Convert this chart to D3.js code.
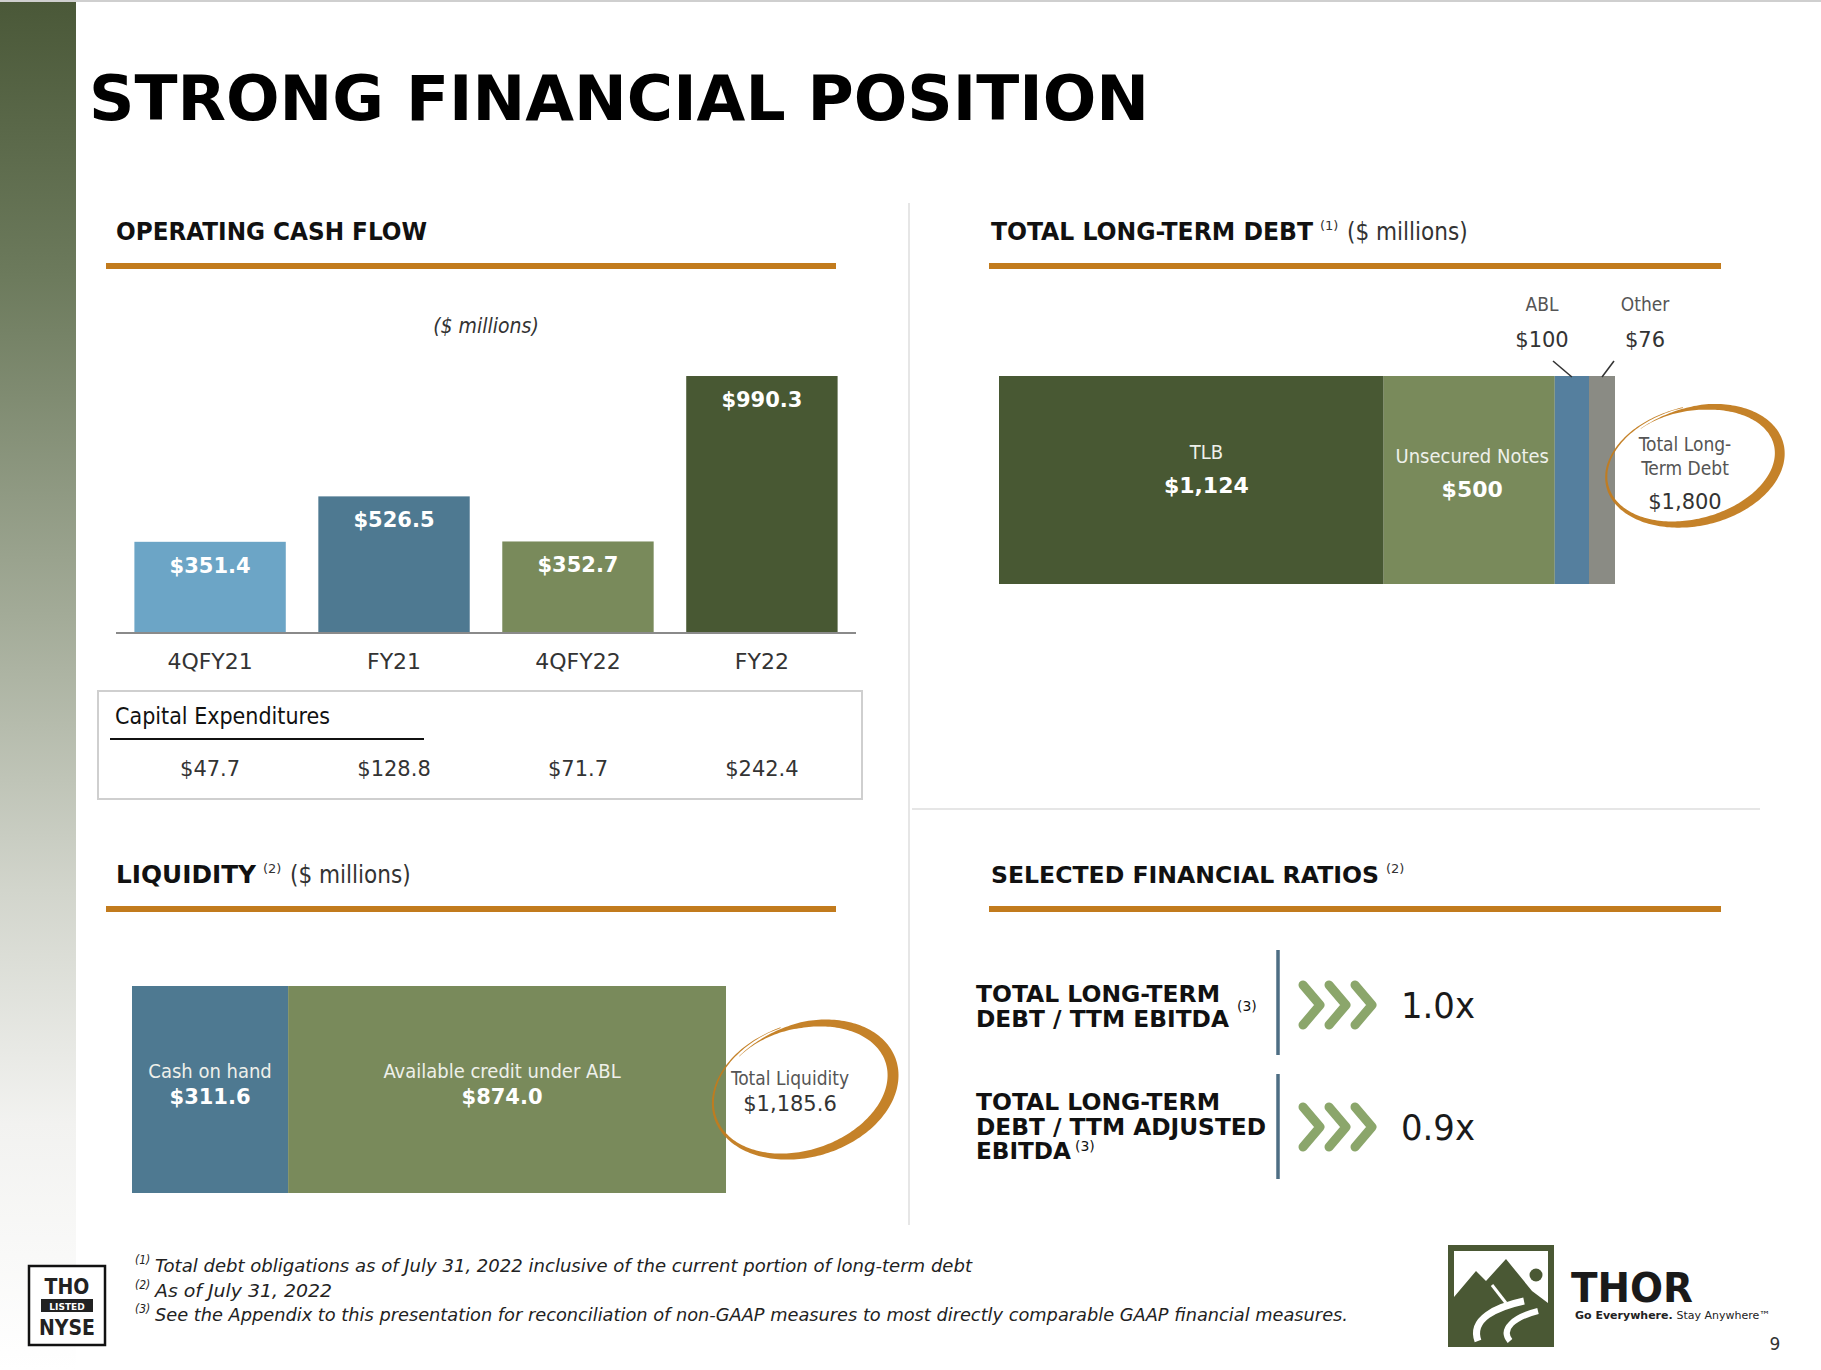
<!DOCTYPE html>
<html>
<head>
<meta charset="utf-8">
<script src="https://cdn.jsdelivr.net/npm/d3@7"></script>
<style>
  html, body { margin: 0; padding: 0; background: #ffffff; }
  svg { display: block; }
  text { font-family: "DejaVu Sans", Verdana, sans-serif; }
  .cond { font-family: "DejaVu Sans Condensed", "DejaVu Sans", sans-serif; font-stretch: condensed; }
</style>
</head>
<body>
<svg id="chart" width="1821" height="1370"></svg>
<script>
// ---------------- DATA ----------------
const ocfCategories = ["4QFY21", "FY21", "4QFY22", "FY22"];
const ocfValues = [351.4, 526.5, 352.7, 990.3];
const ocfLabels = ["$351.4", "$526.5", "$352.7", "$990.3"];
const capexValues = [47.7, 128.8, 71.7, 242.4];
const capexLabels = ["$47.7", "$128.8", "$71.7", "$242.4"];

const debtSegments = ["TLB", "Unsecured Notes", "ABL", "Other"];
const debtValues = [1124, 500, 100, 76];
const debtLabels = ["$1,124", "$500", "$100", "$76"];
const debtTotal = 1800;
const debtTotalLabel = "$1,800";

const liquiditySegments = ["Cash on hand", "Available credit under ABL"];
const liquidityValues = [311.6, 874.0];
const liquidityLabels = ["$311.6", "$874.0"];
const liquidityTotal = 1185.6;
const liquidityTotalLabel = "$1,185.6";

const ratioLines = [["TOTAL LONG-TERM", "DEBT / TTM EBITDA"], ["TOTAL LONG-TERM", "DEBT / TTM ADJUSTED", "EBITDA"]];
const ratioValues = [1.0, 0.9];

const footnotes = [
  ["(1)", "Total debt obligations as of July 31, 2022 inclusive of the current portion of long-term debt"],
  ["(2)", "As of July 31, 2022"],
  ["(3)", "See the Appendix to this presentation for reconciliation of non-GAAP measures to most directly comparable GAAP financial measures."]
];

// ---------------- STYLES ----------------
const ocfColors = ["#6ca5c6", "#4e7991", "#798a5b", "#485833"];
const debtColors = ["#485833", "#798a5b", "#557f9e", "#8a8b84"];
const liqColors = ["#4e7991", "#798a5b"];
const ORANGE = "#c27b1d";

const svg = d3.select("#chart");

svg.append("rect").attr("width", 1821).attr("height", 1370).attr("fill", "#ffffff");

// sidebar gradient
const defs = svg.append("defs");
const grad = defs.append("linearGradient").attr("id", "side").attr("x1", 0).attr("y1", 0).attr("x2", 0).attr("y2", 1);
[[0, "#4a5838"], [0.2, "#6c7a5c"], [0.45, "#a3ab98"], [0.65, "#d2d5cc"], [0.82, "#f2f2f0"], [1, "#ffffff"]]
  .forEach(([o, c]) => grad.append("stop").attr("offset", o).attr("stop-color", c));
svg.append("rect").attr("x", 0).attr("y", 0).attr("width", 76).attr("height", 1370).attr("fill", "url(#side)");
svg.append("rect").attr("x", 0).attr("y", 0).attr("width", 1821).attr("height", 2).attr("fill", "#cfcfcf");

// title
svg.append("text").attr("x", 89).attr("y", 120).attr("font-size", 63).attr("font-weight", "bold")
  .attr("fill", "#000").attr("textLength", 1060).attr("lengthAdjust", "spacingAndGlyphs")
  .text("STRONG FINANCIAL POSITION");

// dividers
svg.append("line").attr("x1", 909).attr("x2", 909).attr("y1", 203).attr("y2", 1225).attr("stroke", "#e6e6e6").attr("stroke-width", 2);
svg.append("line").attr("x1", 912).attr("x2", 1760).attr("y1", 809).attr("y2", 809).attr("stroke", "#e6e6e6").attr("stroke-width", 2);

// section headings
function heading(x, y, main, mainLen, size, sup, rest, lineX1, lineX2, lineY, cls) {
  svg.append("text").attr("class", cls).attr("x", x).attr("y", y).attr("fill", "#111")
    .attr("font-weight", "bold").attr("font-size", size)
    .attr("textLength", mainLen).attr("lengthAdjust", "spacingAndGlyphs").text(main);
  let cx = x + mainLen;
  if (sup) {
    svg.append("text").attr("x", cx + 7).attr("y", y - 10).attr("font-size", 13).attr("fill", "#333").text(sup);
    cx += 28;
  }
  if (rest) svg.append("text").attr("class", "cond").attr("x", cx + 6).attr("y", y).attr("font-size", 24).attr("fill", "#333").text(rest);
  svg.append("rect").attr("x", lineX1).attr("y", lineY - 3).attr("width", lineX2 - lineX1).attr("height", 6).attr("fill", ORANGE);
}
heading(116, 240, "OPERATING CASH FLOW", 311, 25, null, null, 106, 836, 266, "cond");
heading(991, 240, "TOTAL LONG-TERM DEBT", 322, 25, "(1)", "($ millions)", 989, 1721, 266, "cond");
heading(116, 883, "LIQUIDITY", 140, 25, "(2)", "($ millions)", 106, 836, 909, "");
heading(991, 883, "SELECTED FINANCIAL RATIOS", 388, 23.5, "(2)", null, 989, 1721, 909, "");

// ---------------- OPERATING CASH FLOW BARS ----------------
const x = d3.scaleBand().domain(ocfCategories).range([116, 856]).paddingInner(0.177).paddingOuter(0.1);
const y = d3.scaleLinear().domain([0, 1000]).range([633, 373.5]);

svg.append("text").attr("class", "cond").attr("x", 486).attr("y", 333).attr("text-anchor", "middle")
  .attr("font-size", 21).attr("font-style", "italic").attr("fill", "#333").text("($ millions)");

svg.selectAll(".ocfbar").data(ocfValues).join("rect").attr("class", "ocfbar")
  .attr("x", (d, i) => x(ocfCategories[i])).attr("width", x.bandwidth())
  .attr("y", d => y(d)).attr("height", d => y(0) - y(d))
  .attr("fill", (d, i) => ocfColors[i]);

svg.selectAll(".ocfval").data(ocfValues).join("text").attr("class", "ocfval")
  .attr("x", (d, i) => x(ocfCategories[i]) + x.bandwidth() / 2).attr("y", d => y(d) + 31)
  .attr("text-anchor", "middle").attr("font-size", 21).attr("font-weight", "bold").attr("fill", "#ffffff")
  .text((d, i) => ocfLabels[i]);

const xAxis = svg.append("g").attr("transform", "translate(0,633)")
  .call(d3.axisBottom(x).tickSize(0).tickPadding(20));
xAxis.select(".domain").attr("stroke", "#8a8a8a").attr("stroke-width", 2).attr("d", "M116,0H856");
xAxis.selectAll(".tick text").attr("font-size", 22).attr("fill", "#333")
  .attr("font-family", "DejaVu Sans Condensed, DejaVu Sans, sans-serif");

// capex box
svg.append("rect").attr("x", 98).attr("y", 691).attr("width", 764).attr("height", 108)
  .attr("fill", "#fff").attr("stroke", "#cfcfcf").attr("stroke-width", 2);
svg.append("text").attr("class", "cond").attr("x", 115).attr("y", 724).attr("font-size", 23).attr("fill", "#111")
  .text("Capital Expenditures");
svg.append("line").attr("x1", 110).attr("x2", 424).attr("y1", 739).attr("y2", 739).attr("stroke", "#111").attr("stroke-width", 2);
svg.selectAll(".capex").data(capexValues).join("text").attr("class", "capex")
  .attr("x", (d, i) => x(ocfCategories[i]) + x.bandwidth() / 2).attr("y", 776)
  .attr("text-anchor", "middle").attr("font-size", 21).attr("fill", "#333")
  .text((d, i) => capexLabels[i]);

// ---------------- SCRIBBLE ELLIPSE ----------------
function scribble(cx, cy, rx, ry, rotDeg, t0, t1, wmax, wmin, peakDeg) {
  const N = 240, outer = [], inner = [];
  const rot = rotDeg * Math.PI / 180, pk = peakDeg * Math.PI / 180;
  for (let i = 0; i <= N; i++) {
    const f = i / N;
    const a = (t0 + (t1 - t0) * f) * Math.PI / 180;
    const taper = Math.min(1, f / 0.12, (1 - f) / 0.18);
    const w = (wmin + (wmax - wmin) * (0.5 + 0.5 * Math.cos(a - pk))) * Math.max(0.15, taper);
    const s = 1 + 0.05 * (f - 0.5);
    const p = (r1, r2) => {
      const px = r1 * Math.cos(a), py = r2 * Math.sin(a);
      return [cx + px * Math.cos(rot) - py * Math.sin(rot), cy + px * Math.sin(rot) + py * Math.cos(rot)];
    };
    outer.push(p(rx * s + w / 2, ry * s + w / 2));
    inner.push(p(rx * s - w / 2, ry * s - w / 2));
  }
  const pts = outer.concat(inner.reverse());
  svg.append("path").attr("d", d3.line()(pts) + "Z").attr("fill", ORANGE).attr("opacity", 0.95);
}

// ---------------- TOTAL LONG-TERM DEBT ----------------
const xd = d3.scaleLinear().domain([0, debtTotal]).range([999, 1615]);
let cum = 0;
const debtStarts = debtValues.map(v => { const s = cum; cum += v; return s; });
svg.selectAll(".debt").data(debtValues).join("rect").attr("class", "debt")
  .attr("x", (d, i) => xd(debtStarts[i])).attr("width", d => xd(d) - xd(0))
  .attr("y", 376).attr("height", 208).attr("fill", (d, i) => debtColors[i]);

[0, 1].forEach(i => {
  const cx = xd(debtStarts[i] + debtValues[i] / 2) + (i === 0 ? 15 : 3);
  svg.append("text").attr("class", "cond").attr("x", cx).attr("y", i === 0 ? 459 : 463).attr("text-anchor", "middle")
    .attr("font-size", 20).attr("fill", "#eef0ea").text(debtSegments[i]);
  svg.append("text").attr("x", cx).attr("y", i === 0 ? 493 : 497).attr("text-anchor", "middle")
    .attr("font-size", 22).attr("font-weight", "bold").attr("fill", "#ffffff").text(debtLabels[i]);
});
const calloutX = [1542, 1645];
[2, 3].forEach((i, k) => {
  svg.append("text").attr("class", "cond").attr("x", calloutX[k]).attr("y", 311).attr("text-anchor", "middle")
    .attr("font-size", 19).attr("fill", "#555").text(debtSegments[i]);
  svg.append("text").attr("x", calloutX[k]).attr("y", 347).attr("text-anchor", "middle")
    .attr("font-size", 21).attr("fill", "#333").text(debtLabels[i]);
});
svg.append("line").attr("x1", 1553).attr("y1", 361).attr("x2", xd(debtStarts[2] + debtValues[2] / 2)).attr("y2", 377)
  .attr("stroke", "#333").attr("stroke-width", 1.6);
svg.append("line").attr("x1", 1614).attr("y1", 361).attr("x2", xd(debtStarts[3] + debtValues[3] / 2)).attr("y2", 377)
  .attr("stroke", "#333").attr("stroke-width", 1.6);

svg.append("text").attr("class", "cond").attr("x", 1685).attr("y", 451).attr("text-anchor", "middle").attr("font-size", 19).attr("fill", "#555").text("Total Long-");
svg.append("text").attr("class", "cond").attr("x", 1685).attr("y", 475).attr("text-anchor", "middle").attr("font-size", 19).attr("fill", "#555").text("Term Debt");
svg.append("text").attr("x", 1685).attr("y", 509).attr("text-anchor", "middle").attr("font-size", 21).attr("fill", "#333").text(debtTotalLabel);
scribble(1694, 465, 88, 57, -14, 240, 632, 10, 2, 25);

// ---------------- LIQUIDITY ----------------
const xl = d3.scaleLinear().domain([0, liquidityTotal]).range([132, 726]);
let cumL = 0;
const liqStarts = liquidityValues.map(v => { const s = cumL; cumL += v; return s; });
svg.selectAll(".liq").data(liquidityValues).join("rect").attr("class", "liq")
  .attr("x", (d, i) => xl(liqStarts[i])).attr("width", d => xl(d) - xl(0))
  .attr("y", 986).attr("height", 207).attr("fill", (d, i) => liqColors[i]);
liquidityValues.forEach((v, i) => {
  const cx = xl(liqStarts[i] + v / 2) + (i === 1 ? -5 : 0);
  svg.append("text").attr("class", "cond").attr("x", cx).attr("y", 1078).attr("text-anchor", "middle")
    .attr("font-size", 20).attr("fill", "#eef0ea").text(liquiditySegments[i]);
  svg.append("text").attr("x", cx).attr("y", 1104).attr("text-anchor", "middle")
    .attr("font-size", 21).attr("font-weight", "bold").attr("fill", "#ffffff").text(liquidityLabels[i]);
});
svg.append("text").attr("class", "cond").attr("x", 790).attr("y", 1085).attr("text-anchor", "middle").attr("font-size", 19).attr("fill", "#555").text("Total Liquidity");
svg.append("text").attr("x", 790).attr("y", 1111).attr("text-anchor", "middle").attr("font-size", 21).attr("fill", "#333").text(liquidityTotalLabel);
scribble(804, 1089, 92, 64, -18, 235, 628, 11, 2, 20);

// ---------------- RATIOS ----------------
const rowTop = [993, 1101];
const barY = [[950, 1055], [1074, 1179]];
const valY = [1018, 1140];
const ratioLen = [[244, 253], [244, 290, 95]];
ratioLines.forEach((lines, r) => {
  lines.forEach((ln, j) => {
    svg.append("text").attr("x", 976).attr("y", rowTop[r] + 9 + j * 24.5)
      .attr("font-size", 23).attr("font-weight", "bold").attr("fill", "#111")
      .attr("textLength", ratioLen[r][j]).attr("lengthAdjust", "spacingAndGlyphs").text(ln);
  });
  svg.append("line").attr("x1", 1278).attr("x2", 1278).attr("y1", barY[r][0]).attr("y2", barY[r][1])
    .attr("stroke", "#4e6e84").attr("stroke-width", 3.5);
  for (let k = 0; k < 3; k++) {
    const x0 = 1303 + k * 26;
    svg.append("path").attr("d", `M${x0},${valY[r] - 33}L${x0 + 17},${valY[r] - 13}L${x0},${valY[r] + 7}`)
      .attr("fill", "none").attr("stroke", "#8ba66b").attr("stroke-width", 9)
      .attr("stroke-linecap", "round").attr("stroke-linejoin", "round");
  }
  svg.append("text").attr("x", 1401).attr("y", valY[r]).attr("font-size", 36).attr("fill", "#1a1a1a")
    .attr("textLength", 74).attr("lengthAdjust", "spacingAndGlyphs").text(ratioValues[r].toFixed(1) + "x");
});
svg.append("text").attr("x", 1237).attr("y", 1011).attr("font-size", 14).attr("fill", "#111").text("(3)");
svg.append("text").attr("x", 1075).attr("y", 1151).attr("font-size", 14).attr("fill", "#111").text("(3)");

// ---------------- FOOTNOTES ----------------
const fnLen = [817, 177, 1193];
footnotes.forEach(([sup, txt], i) => {
  const yy = 1272 + i * 24.5;
  svg.append("text").attr("class", "cond").attr("x", 135).attr("y", yy - 8).attr("font-size", 12)
    .attr("font-style", "italic").attr("fill", "#222").text(sup);
  svg.append("text").attr("class", "cond").attr("x", 155).attr("y", yy).attr("font-size", 18)
    .attr("font-style", "italic").attr("fill", "#222")
    .attr("textLength", fnLen[i]).attr("lengthAdjust", "spacingAndGlyphs").text(txt);
});

// ---------------- NYSE BADGE ----------------
svg.append("rect").attr("x", 29).attr("y", 1266).attr("width", 76).attr("height", 79).attr("fill", "#fff")
  .attr("stroke", "#111").attr("stroke-width", 2.5);
svg.append("text").attr("class", "cond").attr("x", 67).attr("y", 1294).attr("text-anchor", "middle")
  .attr("font-size", 21).attr("font-weight", "bold").attr("fill", "#222").text("THO");
svg.append("rect").attr("x", 41).attr("y", 1299).attr("width", 52).attr("height", 13).attr("fill", "#222");
svg.append("text").attr("x", 67).attr("y", 1309.5).attr("text-anchor", "middle")
  .attr("font-size", 9).attr("font-weight", "bold").attr("fill", "#fff").text("LISTED");
svg.append("text").attr("class", "cond").attr("x", 67).attr("y", 1335).attr("text-anchor", "middle")
  .attr("font-size", 21).attr("font-weight", "bold").attr("fill", "#222").text("NYSE");

// ---------------- THOR LOGO ----------------
const lg = svg.append("g").attr("transform", "translate(1448,1245)");
const GREEN = "#4a5834";
lg.append("rect").attr("width", 106).attr("height", 102).attr("fill", GREEN);
lg.append("rect").attr("x", 6).attr("y", 6).attr("width", 94).attr("height", 90).attr("fill", "#fff");
lg.append("path").attr("d", "M6,52 L28,26 L38,36 L58,14 L84,46 L100,58 L100,96 L6,96 Z").attr("fill", GREEN);
lg.append("circle").attr("cx", 88).attr("cy", 30).attr("r", 6.5).attr("fill", GREEN);
lg.append("path").attr("d", "M44,40 L58,58").attr("stroke", "#fff").attr("stroke-width", 3).attr("fill", "none");
lg.append("path").attr("d", "M76,56 C48,62 22,74 30,96").attr("stroke", "#fff").attr("stroke-width", 7).attr("fill", "none");
lg.append("path").attr("d", "M90,66 C66,72 52,84 62,96").attr("stroke", "#fff").attr("stroke-width", 6).attr("fill", "none");

svg.append("text").attr("x", 1571).attr("y", 1302).attr("font-family", "Inter, 'Open Sans', sans-serif")
  .attr("font-size", 40).attr("font-weight", 900).attr("fill", "#1a1a1a")
  .attr("textLength", 122).attr("lengthAdjust", "spacingAndGlyphs").text("THOR");
const tg = svg.append("text").attr("x", 1575).attr("y", 1319).attr("font-family", "Inter, sans-serif").attr("font-size", 11).attr("fill", "#222");
tg.append("tspan").attr("font-weight", 800).text("Go Everywhere. ");
tg.append("tspan").attr("font-weight", 400).text("Stay Anywhere\u2122");
svg.append("text").attr("x", 1775).attr("y", 1350).attr("text-anchor", "middle").attr("font-size", 17).attr("fill", "#333").text("9");
</script>
</body>
</html>
